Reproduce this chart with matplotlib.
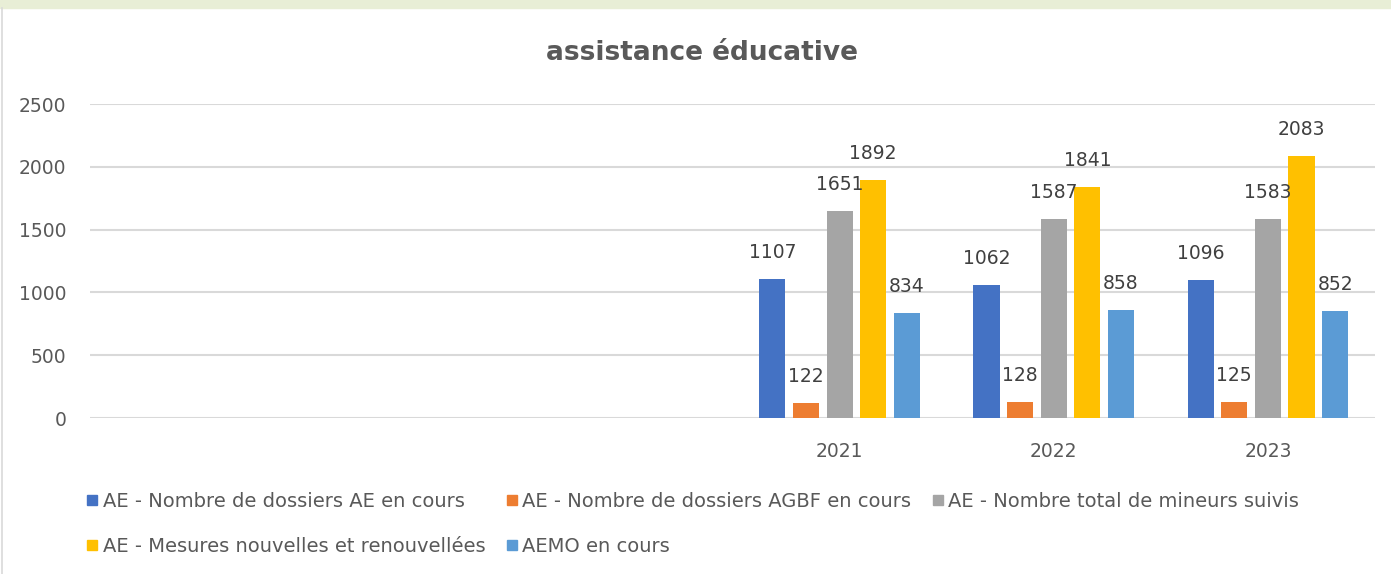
import numpy as np
import matplotlib
matplotlib.use("Agg")
import matplotlib.pyplot as plt
from matplotlib.lines import Line2D
from matplotlib.patches import Rectangle


# =========================
# Data
# =========================

categories = ["", "", "", "2021", "2022", "2023"]

series_names = [
    "AE - Nombre de dossiers AE en cours",
    "AE - Nombre de dossiers AGBF en cours",
    "AE - Nombre total de mineurs suivis",
    "AE - Mesures nouvelles et renouvellées",
    "AEMO en cours",
]

dossiers_ae = [None, None, None, 1107, 1062, 1096]
dossiers_agbf = [None, None, None, 122, 128, 125]
mineurs_suivis = [None, None, None, 1651, 1587, 1583]
mesures_nouvelles = [None, None, None, 1892, 1841, 2083]
aemo = [None, None, None, 834, 858, 852]

colors = ["#4472C4", "#ED7D31", "#A5A5A5", "#FFC000", "#5B9BD5"]

y_ticks = [0, 500, 1000, 1500, 2000, 2500]


# =========================
# Figure
# =========================

plt.rcParams["font.family"] = ["DejaVu Sans"]
fs = 13.5

fig = plt.figure(figsize=(13.91, 5.74), dpi=100)
fig.patch.set_facecolor("white")

# thin green band on top and grey edge on the left (slide frame)
fig.patches.append(Rectangle((0, 1 - 8 / 574), 1, 8 / 574, transform=fig.transFigure,
                             color="#E8EED6", zorder=0))
fig.add_artist(Line2D([2 / 1391, 2 / 1391], [0, 1 - 8 / 574], transform=fig.transFigure,
                      color="#D9D9D9", linewidth=1.2))

ax = fig.add_axes([90 / 1391, 1 - 418 / 574, 1285 / 1391, 314 / 574])

all_series = [dossiers_ae, dossiers_agbf, mineurs_suivis, mesures_nouvelles, aemo]
x = np.arange(len(categories))
step = 0.157
width = 0.122

for i, (name, values, color) in enumerate(zip(series_names, all_series, colors)):
    vals = np.array([np.nan if v is None else v for v in values], dtype=float)
    offset = (i - 2) * step
    ax.bar(x + offset, np.nan_to_num(vals), width, color=color, label=name, zorder=3)
    for xi, v in zip(x, vals):
        if np.isnan(v):
            continue
        ax.annotate(f"{int(v)}", (xi + offset, v), xytext=(0, 19),
                    textcoords="offset points", ha="center", va="center",
                    fontsize=fs, color="#404040", zorder=4)

ax.set_xlim(-0.5, len(categories) - 0.5)
ax.set_ylim(0, 2500)
ax.set_yticks(y_ticks)
ax.set_xticks(x)
ax.set_xticklabels(categories)
ax.tick_params(axis="both", length=0, labelsize=fs, labelcolor="#595959")
ax.tick_params(axis="x", pad=17)
ax.tick_params(axis="y", pad=17)
ax.grid(axis="y", color="#D9D9D9", linewidth=1.5, zorder=0)
for spine in ax.spines.values():
    spine.set_visible(False)
ax.set_facecolor("white")

fig.text(0.505, 1 - 53 / 574, "assistance éducative", ha="center", va="center",
         fontsize=19, fontweight="bold", color="#595959")

# legend laid out row by row
order = [0, 3, 1, 4, 2]
handles = [Line2D([], [], linestyle="none", marker="s", markersize=7,
                  markerfacecolor=colors[i], markeredgecolor=colors[i]) for i in order]
labels = [series_names[i] for i in order]
leg = fig.legend(handles, labels, loc="upper left", bbox_to_anchor=(87 / 1391, 1 - 492 / 574),
                 ncol=3, frameon=False, fontsize=14, handlelength=0.55,
                 handletextpad=0.25, columnspacing=1.1, labelspacing=1.35,
                 borderpad=0, borderaxespad=0)
for t in leg.get_texts():
    t.set_color("#595959")

fig.savefig("out.png", dpi=100)
